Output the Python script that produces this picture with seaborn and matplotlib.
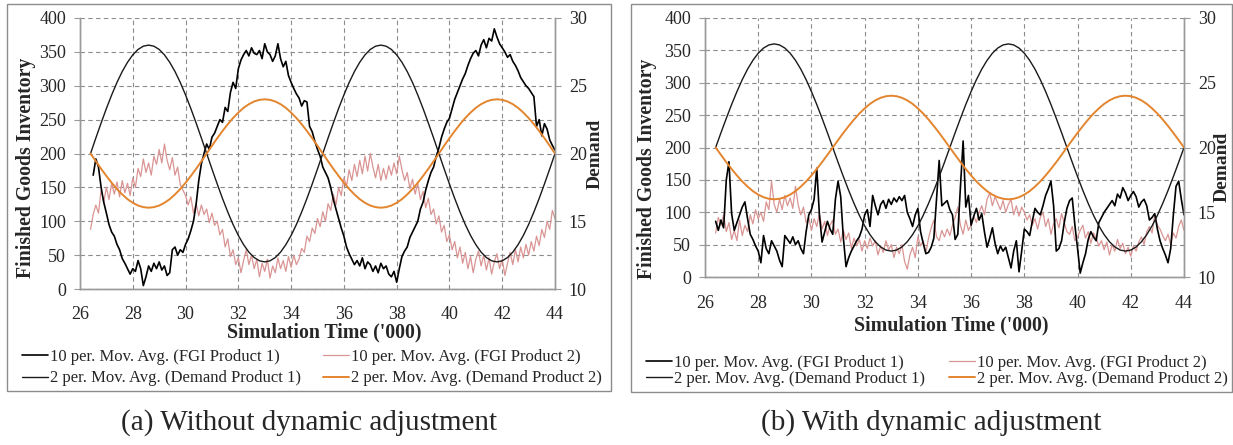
import numpy as np
import matplotlib
matplotlib.use("Agg")
import matplotlib.pyplot as plt
import seaborn as sns
from matplotlib.patches import Rectangle

# ---- data (time in '000) ----
# demand, 2 per. moving average, sampled every 0.2 from 26.4 to 44.0
demand_p1 = [20, 21.14, 22.25, 23.32, 24.32, 25.24, 26.05, 26.73, 27.28, 27.68, 27.92, 28,
             27.92, 27.68, 27.28, 26.73, 26.05, 25.24, 24.32, 23.32, 22.25, 21.14, 20,
             18.86, 17.75, 16.68, 15.68, 14.76, 13.95, 13.27, 12.72, 12.32, 12.08, 12,
             12.08, 12.32, 12.72, 13.27, 13.95, 14.76, 15.68, 16.68, 17.75, 18.86,
             20, 21.14, 22.25, 23.32, 24.32, 25.24, 26.05, 26.73, 27.28, 27.68, 27.92, 28,
             27.92, 27.68, 27.28, 26.73, 26.05, 25.24, 24.32, 23.32, 22.25, 21.14, 20,
             18.86, 17.75, 16.68, 15.68, 14.76, 13.95, 13.27, 12.72, 12.32, 12.08, 12,
             12.08, 12.32, 12.72, 13.27, 13.95, 14.76, 15.68, 16.68, 17.75, 18.86, 20]
demand_p2 = [20, 19.43, 18.87, 18.34, 17.84, 17.38, 16.98, 16.63, 16.36, 16.16, 16.04, 16,
             16.04, 16.16, 16.36, 16.63, 16.98, 17.38, 17.84, 18.34, 18.87, 19.43, 20,
             20.57, 21.13, 21.66, 22.16, 22.62, 23.02, 23.37, 23.64, 23.84, 23.96, 24,
             23.96, 23.84, 23.64, 23.37, 23.02, 22.62, 22.16, 21.66, 21.13, 20.57,
             20, 19.43, 18.87, 18.34, 17.84, 17.38, 16.98, 16.63, 16.36, 16.16, 16.04, 16,
             16.04, 16.16, 16.36, 16.63, 16.98, 17.38, 17.84, 18.34, 18.87, 19.43, 20,
             20.57, 21.13, 21.66, 22.16, 22.62, 23.02, 23.37, 23.64, 23.84, 23.96, 24,
             23.96, 23.84, 23.64, 23.37, 23.02, 22.62, 22.16, 21.66, 21.13, 20.57, 20]

# (a) without dynamic adjustment, FGI 10 per. moving average, every 0.1
fgi_a_p1 = [168, 192, 180, 150, 128, 112, 95, 84, 78, 66, 58, 45, 38, 30, 22, 30, 26, 42, 30, 5,
            18, 34, 26, 38, 30, 40, 28, 34, 20, 24, 58, 62, 50, 58, 54, 66, 74, 86, 100, 125,
            160, 185, 200, 214, 206, 224, 230, 240, 250, 246, 268, 262, 290, 305, 296, 325, 338, 346, 352, 344,
            356, 348, 346, 352, 340, 362, 350, 346, 336, 344, 362, 340, 328, 336, 315, 305, 296, 288, 282, 270,
            278, 276, 240, 232, 218, 206, 196, 180, 172, 164, 150, 132, 118, 104, 90, 78, 62, 52, 44, 36,
            42, 34, 46, 30, 40, 36, 26, 34, 24, 38, 30, 34, 22, 18, 26, 10, 30, 48, 56, 62,
            76, 84, 92, 100, 118, 128, 146, 160, 172, 180, 196, 208, 224, 236, 246, 252, 266, 280, 290, 300,
            310, 318, 330, 340, 348, 352, 344, 360, 368, 356, 370, 366, 384, 372, 362, 356, 350, 342, 346, 336,
            330, 322, 312, 306, 300, 296, 290, 284, 240, 250, 226, 244, 236, 220, 212, 205]
fgi_a_p2 = [88, 110, 124, 112, 146, 128, 150, 132, 156, 140, 158, 136, 160, 142, 156, 138, 164, 150, 178, 166,
            192, 172, 186, 168, 196, 184, 206, 186, 214, 190, 176, 194, 168, 180, 154, 146, 138, 124, 136, 112,
            126, 108, 124, 110, 118, 98, 112, 94, 100, 80, 88, 62, 74, 48, 58, 36, 46, 24, 42, 58,
            36, 50, 30, 44, 18, 38, 26, 44, 16, 34, 24, 46, 30, 42, 26, 48, 32, 50, 36, 44,
            60, 54, 78, 70, 90, 82, 104, 92, 114, 100, 126, 116, 140, 124, 150, 138, 164, 152, 176, 160,
            184, 166, 190, 170, 196, 174, 200, 180, 164, 184, 160, 178, 162, 182, 168, 186, 170, 196, 176, 160,
            172, 148, 162, 140, 156, 132, 144, 120, 134, 110, 118, 96, 108, 84, 94, 70, 80, 58, 70, 46,
            62, 38, 54, 30, 48, 24, 44, 56, 34, 50, 28, 46, 22, 40, 52, 30, 44, 20, 38, 54,
            36, 58, 40, 62, 46, 66, 50, 70, 56, 78, 64, 88, 76, 100, 88, 116, 104]

# (b) with dynamic adjustment, FGI 10 per. moving average, every 0.1
fgi_b_p1 = [86, 72, 88, 76, 150, 178, 98, 72, 84, 96, 108, 116, 90, 66, 58, 48, 40, 22, 64, 44,
            36, 56, 48, 40, 26, 16, 64, 58, 52, 62, 50, 56, 44, 36, 70, 96, 104, 120, 168, 96,
            54, 70, 86, 74, 66, 120, 148, 124, 60, 16, 30, 40, 48, 56, 62, 74, 96, 104, 78, 126,
            110, 96, 112, 118, 106, 120, 112, 122, 116, 124, 118, 126, 100, 90, 78, 96, 106, 70, 52, 36,
            38, 46, 60, 120, 180, 110, 114, 118, 104, 96, 58, 66, 140, 210, 108, 126, 80, 94, 106, 88,
            98, 70, 46, 60, 76, 52, 36, 48, 40, 46, 30, 14, 40, 56, 8, 40, 74, 70, 64, 86,
            106, 100, 96, 110, 126, 136, 148, 110, 40, 44, 56, 84, 106, 118, 122, 80, 44, 6, 22, 36,
            58, 70, 62, 56, 84, 92, 100, 106, 112, 118, 110, 128, 122, 138, 130, 118, 126, 132, 124, 108,
            116, 120, 110, 88, 92, 98, 74, 56, 44, 34, 22, 44, 96, 140, 148, 120, 96]
fgi_b_p2 = [68, 92, 80, 96, 70, 84, 58, 72, 56, 88, 64, 80, 70, 96, 82, 104, 90, 100, 86, 116,
            104, 148, 112, 100, 120, 104, 126, 110, 122, 106, 140, 112, 96, 108, 84, 92, 72, 90, 78, 98,
            74, 86, 64, 80, 88, 66, 74, 54, 72, 58, 68, 44, 60, 48, 58, 40, 56, 44, 60, 48,
            56, 34, 48, 38, 56, 42, 50, 30, 46, 36, 50, 24, 12, 34, 46, 30, 62, 48, 56, 38,
            60, 76, 88, 62, 56, 72, 62, 74, 64, 80, 92, 108, 80, 66, 88, 72, 80, 94, 84, 100,
            110, 96, 120, 130, 110, 124, 114, 104, 118, 100, 112, 120, 96, 110, 94, 108, 100, 88, 96, 80,
            90, 74, 92, 100, 78, 90, 66, 82, 90, 76, 98, 84, 70, 66, 78, 56, 62, 72, 80, 60,
            70, 52, 68, 60, 48, 56, 42, 54, 34, 50, 40, 58, 44, 52, 36, 46, 32, 48, 40, 54,
            62, 50, 70, 78, 68, 96, 80, 74, 64, 56, 66, 50, 68, 60, 78, 88, 72]

panels = [
    ("(a) Without dynamic adjustment", fgi_a_p1, 26.5, fgi_a_p2, 26.4),
    ("(b) With dynamic adjustment", fgi_b_p1, 26.4, fgi_b_p2, 26.4),
]

labels = ["10 per. Mov. Avg. (FGI Product 1)", "10 per. Mov. Avg. (FGI Product 2)",
          "2 per. Mov. Avg. (Demand Product 1)", "2 per. Mov. Avg. (Demand Product 2)"]

C_FGI1 = "#000000"
C_FGI2 = "#D99594"
C_DEM1 = "#1a1a1a"
C_DEM2 = "#E3852F"
GRID = "#8c8c8c"

sns.set_style("white")
plt.rcParams["font.family"] = ["Liberation Serif", "DejaVu Serif"]
plt.rcParams["font.size"] = 13

fig = plt.figure(figsize=(12.33, 4.45), dpi=100)
W, H = 1233, 445

# layout in pixels
boxes = [(80, 555, 18, 289), (705, 1184, 18, 277)]      # axes: left, right, top, bottom
frames = [(7, 611, 4, 391), (631, 1232, 4, 392)]        # panel frames
xtick_pad = [8, 9]
xlabel_y = [332, 325]
legend_top = [349, 355]
legend_x = [22, 646]
legend_gap = [301, 303]
legend_rowsp = [0.33, 0.0]
ylab_left = [(25, 168), (646, 169)]      # centre of the rotated label
ylab_right = [(598, 154), (1225, 167)]
half = 11                                # half the height of a rotated label

for i, (title, f1, s1, f2, s2) in enumerate(panels):
    l, r, t, b = boxes[i]
    ax = fig.add_axes([l / W, 1 - b / H, (r - l) / W, (b - t) / H])
    ax2 = ax.twinx()

    t1 = np.linspace(s1, 44.0, len(f1))
    t2 = np.linspace(s2, 44.0, len(f2))
    td = np.linspace(26.4, 44.0, len(demand_p1))

    sns.lineplot(x=t2, y=f2, ax=ax, color=C_FGI2, lw=0.9, sort=False, estimator=None)
    sns.lineplot(x=t1, y=f1, ax=ax, color=C_FGI1, lw=1.2, sort=False, estimator=None)
    sns.lineplot(x=td, y=demand_p1, ax=ax2, color=C_DEM1, lw=1.0, sort=False, estimator=None)
    sns.lineplot(x=td, y=demand_p2, ax=ax2, color=C_DEM2, lw=1.4, sort=False, estimator=None)

    ax.set_xlim(26, 44)
    ax.set_ylim(0, 400)
    ax2.set_ylim(10, 30)
    ax.set_xticks(range(26, 45, 2))
    ax.set_yticks(range(0, 401, 50))
    ax2.set_yticks(range(10, 31, 5))

    ax.grid(True, ls=(0, (4, 3)), color=GRID, lw=0.8)
    ax2.grid(False)
    for a in (ax, ax2):
        a.spines["top"].set_visible(False)
        for side in ("left", "right", "bottom"):
            a.spines[side].set_color("#9a9a9a")
            a.spines[side].set_linewidth(1.0)
        a.tick_params(axis="both", length=4, color="#9a9a9a", labelsize=13, pad=6)
    ax.tick_params(axis="x", pad=xtick_pad[i])

    ax.set_xlabel("")
    ax.set_ylabel("Finished Goods Inventory", fontweight="bold", fontsize=14.2)
    ax2.set_ylabel("Demand", fontweight="bold", fontsize=14)
    lx, ly = ylab_left[i]
    ax.yaxis.set_label_coords((lx + half - l) / (r - l), (b - ly) / (b - t))
    rx, ry = ylab_right[i]
    ax2.yaxis.set_label_coords((rx - half - l) / (r - l), (b - ry) / (b - t))

    fig.text(((l + r) / 2 + 7) / W, 1 - xlabel_y[i] / H, "Simulation Time ('000)",
             ha="center", va="center", fontweight="bold", fontsize=14.3)

    h = {"f1": ax.get_lines()[1], "f2": ax.get_lines()[0],
         "d1": ax2.get_lines()[0], "d2": ax2.get_lines()[1]}
    columns = [([h["f1"], h["d1"]], [labels[0], labels[2]]),
               ([h["f2"], h["d2"]], [labels[1], labels[3]])]
    for c, (hs, ls) in enumerate(columns):
        fig.legend(hs, ls, loc="upper left",
                   bbox_to_anchor=((legend_x[i] + c * legend_gap[i]) / W, 1 - legend_top[i] / H),
                   ncol=1, frameon=False, fontsize=12, handlelength=1.55, handletextpad=0.12,
                   labelspacing=legend_rowsp[i], borderpad=0, borderaxespad=0)

    fl, fr, ft, fb = frames[i]
    fig.patches.append(Rectangle((fl / W, 1 - fb / H), (fr - fl) / W, (fb - ft) / H,
                                 transform=fig.transFigure, fill=False,
                                 edgecolor="#8c8c8c", lw=1.0))
    fig.text((fl + fr) / 2 / W, 1 - 423 / H, title, ha="center", va="center", fontsize=21)

fig.savefig("out.png", dpi=100)
